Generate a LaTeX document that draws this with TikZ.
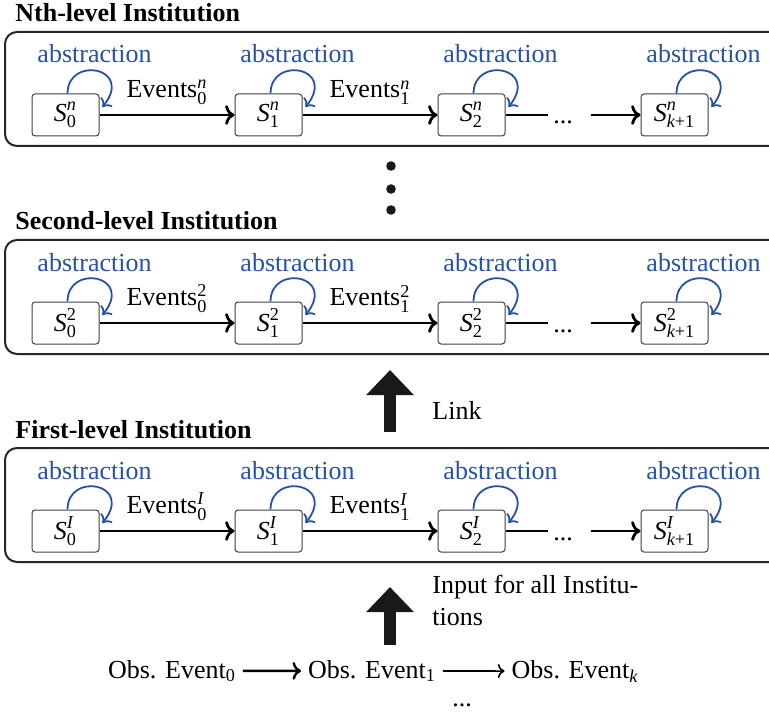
\documentclass[tikz,border=0pt]{standalone}
\usepackage{amsmath}
\usepackage{fontspec}
\setmainfont{Liberation Serif}
\usetikzlibrary{arrows.meta, positioning, calc}
\definecolor{absblue}{RGB}{38,82,166}
\tikzstyle{state} = [rectangle, rounded corners=1.5pt, minimum width=33.5pt,
minimum height=21pt, draw=black!75, line width=0.5pt, fill=white, inner sep=1pt]
\tikzstyle{inst} = [draw=black!85, line width=1pt, rounded corners=6pt]
\tikzstyle{arrow} = [line width=1.4pt, ->]
\tikzstyle{line} = [line width=1.4pt, -]
\tikzstyle{abs} = [absblue, line width=0.9pt, ->]
\tikzstyle{bigarrow} = [black!90, line width=6pt, -{Triangle[width=23pt,length=12.5pt]}]
\newcommand{\stt}[2]{$\textit{S}^{#1}_{#2}$}

\begin{document}
\begin{tikzpicture}[x=0.5pt, y=0.5pt, node distance=67.5pt,
    font=\fontsize{13pt}{16pt}\selectfont]

        \useasboundingbox (0,0) rectangle (769,-716);

        % the three institutions
        \foreach \lvl/\up/\dy/\ttl in {n/\textit{n}/0/Nth-level, 2/\textrm{2}/208/Second-level, I/\textit{I}/416/First-level} {

            \node (T\lvl) [anchor=base west, inner sep=0pt, font=\fontsize{13pt}{16pt}\selectfont\bfseries]
                at (15,-22-\dy) {\ttl\ Institution};
            \draw [inst] (5,-32-\dy) rectangle (800,-146-\dy);

            \node (S\lvl0) [state] at (65.5,-115-\dy) {\stt{\up}{\textrm{0}}};
            \node (S\lvl1) [state, right=of S\lvl0] {\stt{\up}{\textrm{1}}};
            \node (S\lvl2) [state, right=of S\lvl1] {\stt{\up}{\textrm{2}}};
            \node (S\lvl k) [state, right=of S\lvl2] {\stt{\up}{\textit{k}\textrm{+1}}};

            \foreach \s in {0,1,2,k} {
                \draw [abs] ([xshift=1pt]S\lvl\s.north) .. controls +(0,19pt) and +(16pt,20pt)
                    .. ([shift={(1.5pt,4pt)}]S\lvl\s.east);
                \path (S\lvl\s.center) ++(14.5pt,26pt) node (A\lvl\s) [anchor=base, text=absblue] {abstraction};
            }

            \draw [arrow] (S\lvl0) -- node[above=1pt] {Events$^{\up}_{\textrm{0}}$} (S\lvl1);
            \draw [arrow] (S\lvl1) -- node[above=1pt] {Events$^{\up}_{\textrm{1}}$} (S\lvl2);

            \coordinate (E\lvl) at ([xshift=21pt]S\lvl2.east);
            \coordinate (B\lvl) at ([xshift=-25pt]S\lvl k.west);
            \node (D\lvl) [anchor=base, inner sep=0pt] at ($(S\lvl2.east)!0.5!(S\lvl k.west)+(-5pt,-4.5pt)$) {...};
            \draw [line] (S\lvl2) -- (E\lvl);
            \draw [arrow] (B\lvl) -- (S\lvl k);
        }

        % vertical dots between levels
        \foreach \y in {166,189,210}
            \fill[black!90] (391,-\y) circle (2.4pt);

        \coordinate (L0) at (390,-432);
        \coordinate (L1) at (390,-370);
        \draw [bigarrow] (L0) -- (L1);
        \node (link) [anchor=west, inner sep=0pt] at (432,-410) {Link};

        \coordinate (I0) at (390,-645);
        \coordinate (I1) at (390,-587);
        \draw [bigarrow] (I0) -- (I1);
        \node (input) [anchor=north west, inner sep=0pt, align=left] at (432,-575) {Input for all Institu-\\tions};

        % observed events
        \node (O0) [anchor=base] at (172,-678) {Obs. Event$_{\textrm{0}}$};
        \node (O1) [anchor=base] at (372,-678) {Obs. Event$_{\textrm{1}}$};
        \node (Ok) [anchor=base] at (575,-678) {Obs. Event$_{\textit{k}}$};
        \node (odots) [anchor=base, inner sep=0pt] at (462,-706) {...};

        \draw [line width=1.2pt, ->] (O0) -- (O1);
        \draw [line width=0.8pt, ->] (O1) -- (Ok);

    \end{tikzpicture}
\end{document}
